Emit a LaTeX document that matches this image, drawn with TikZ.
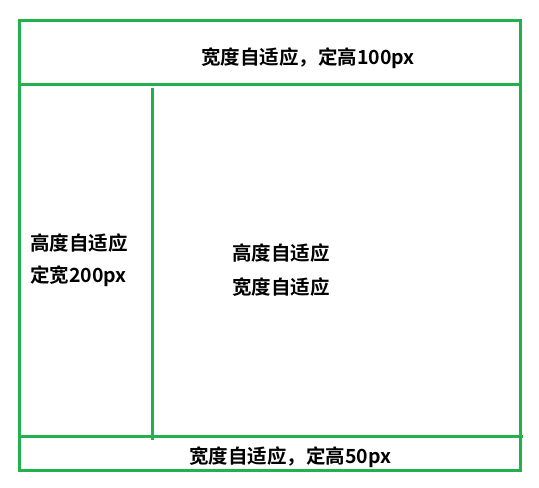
\documentclass[tikz,border=0pt]{standalone}
\usepackage{fontspec}
\usepackage{xcolor}
\newfontfamily\cjk{Noto Sans CJK SC}[BoldFont={Noto Sans CJK SC Bold}]
\definecolor{boxgreen}{HTML}{22B14C}

\begin{document}
\begin{tikzpicture}[x=1pt, y=-1pt,
    frame/.style={boxgreen, line width=3},
    label/.style={font=\cjk\bfseries\fontsize{19.5}{23}\selectfont, inner sep=0pt}]
    \def\lft{19}; % outer box left x
    \def\rgt{520}; % outer box right x
    \def\tp{20}; % outer box top y
    \def\bt{470}; % outer box bottom y
    \def\hdy{84}; % header line y
    \def\ftty{436}; % footer line y
    \def\sdx{152}; % side column line x

    \useasboundingbox (0,0) rectangle (539,488);

    % frame %%%%%%%%%%%%%%%%%%%%%%%%%%%%%%%%%%%%%%%%%%%%%%%%%%%%%%%%%%%%%%%%%%%%%%%%%%%%%%%%%%%%%%%
    \draw[frame] (\lft, \tp) rectangle (\rgt, \bt);
    \draw[frame] (\lft+2, \hdy) -- (\rgt, \hdy);
    \draw[frame] (\lft, \ftty) -- (\rgt+3, \ftty);
    \draw[frame] (\sdx, \hdy+4) -- (\sdx, \ftty+4);

    % texts %%%%%%%%%%%%%%%%%%%%%%%%%%%%%%%%%%%%%%%%%%%%%%%%%%%%%%%%%%%%%%%%%%%%%%%%%%%%%%%%%%%%%%%
    \node[label] (header) at (308, 58) {宽度自适应，定高100px};
    \node[label, anchor=west] (side1) at (\lft+11, 243) {高度自适应};
    \node[label, anchor=west] (side2) at (\lft+11, 276) {定宽200px};
    \node[label, anchor=west] (main1) at (232, 253) {高度自适应};
    \node[label, anchor=west] (main2) at (232, 287) {宽度自适应};
    \node[label] (footer) at (290, 457) {宽度自适应，定高50px};
\end{tikzpicture}
\end{document}
